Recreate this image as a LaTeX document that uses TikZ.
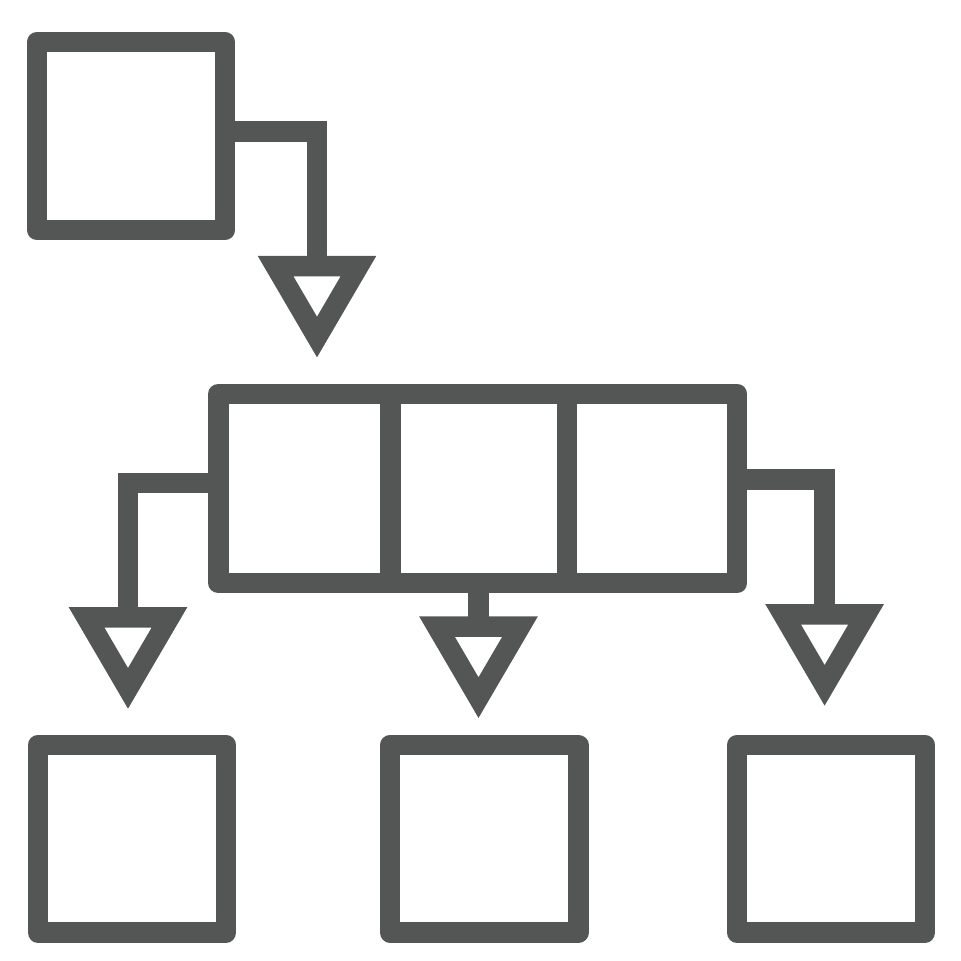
\documentclass[tikz,border=0pt]{standalone}
\usetikzlibrary{calc}
\definecolor{icongray}{RGB}{84,86,85}
\begin{document}
\begin{tikzpicture}[x=0.01cm,y=-0.01cm,
    box/.style={draw=icongray,line width=2.05mm,line join=round,inner sep=0pt,outer sep=0pt,
      minimum width=1.88cm,minimum height=1.88cm},
    link/.style={draw=icongray,line width=2.05mm,line join=miter},
    headpic/.pic={\draw[link] (-41.5,0) -- (41.5,0) -- (0,71) -- cycle;}]
    \useasboundingbox (0,0) rectangle (961,960);
    % boxes
    \node[box] (src) at (131,136) {};
    \node[box,minimum width=5.185cm,minimum height=1.89cm] (mid) at (477.75,488.5) {};
    \node[box,minimum height=1.875cm] (outa) at (132,838.75) {};
    \node[box,minimum height=1.875cm] (outb) at (484.25,838.75) {};
    \node[box,minimum height=1.875cm] (outc) at (831,838.75) {};
    \draw[link] ($(mid.north west)!0.332!(mid.north east)$) -- ($(mid.south west)!0.332!(mid.south east)$);
    \draw[link] ($(mid.north west)!0.672!(mid.north east)$) -- ($(mid.south west)!0.672!(mid.south east)$);
    % arrow heads
    \coordinate (ha) at (317,266);
    \coordinate (hb) at (128,617.3);
    \coordinate (hc) at (478.5,626.6);
    \coordinate (hd) at (824.6,614.3);
    \draw[link] ([yshift=0.045cm]src.east) -| (ha);
    \draw[link] ([yshift=0.055cm]mid.west) -| (hb);
    \draw[link] (mid.south -| hc) -- (hc);
    \draw[link] ([yshift=0.088cm]mid.east) -| (hd);
    \foreach \h in {ha,hb,hc,hd}
      \pic at (\h) {headpic};
\end{tikzpicture}
\end{document}
